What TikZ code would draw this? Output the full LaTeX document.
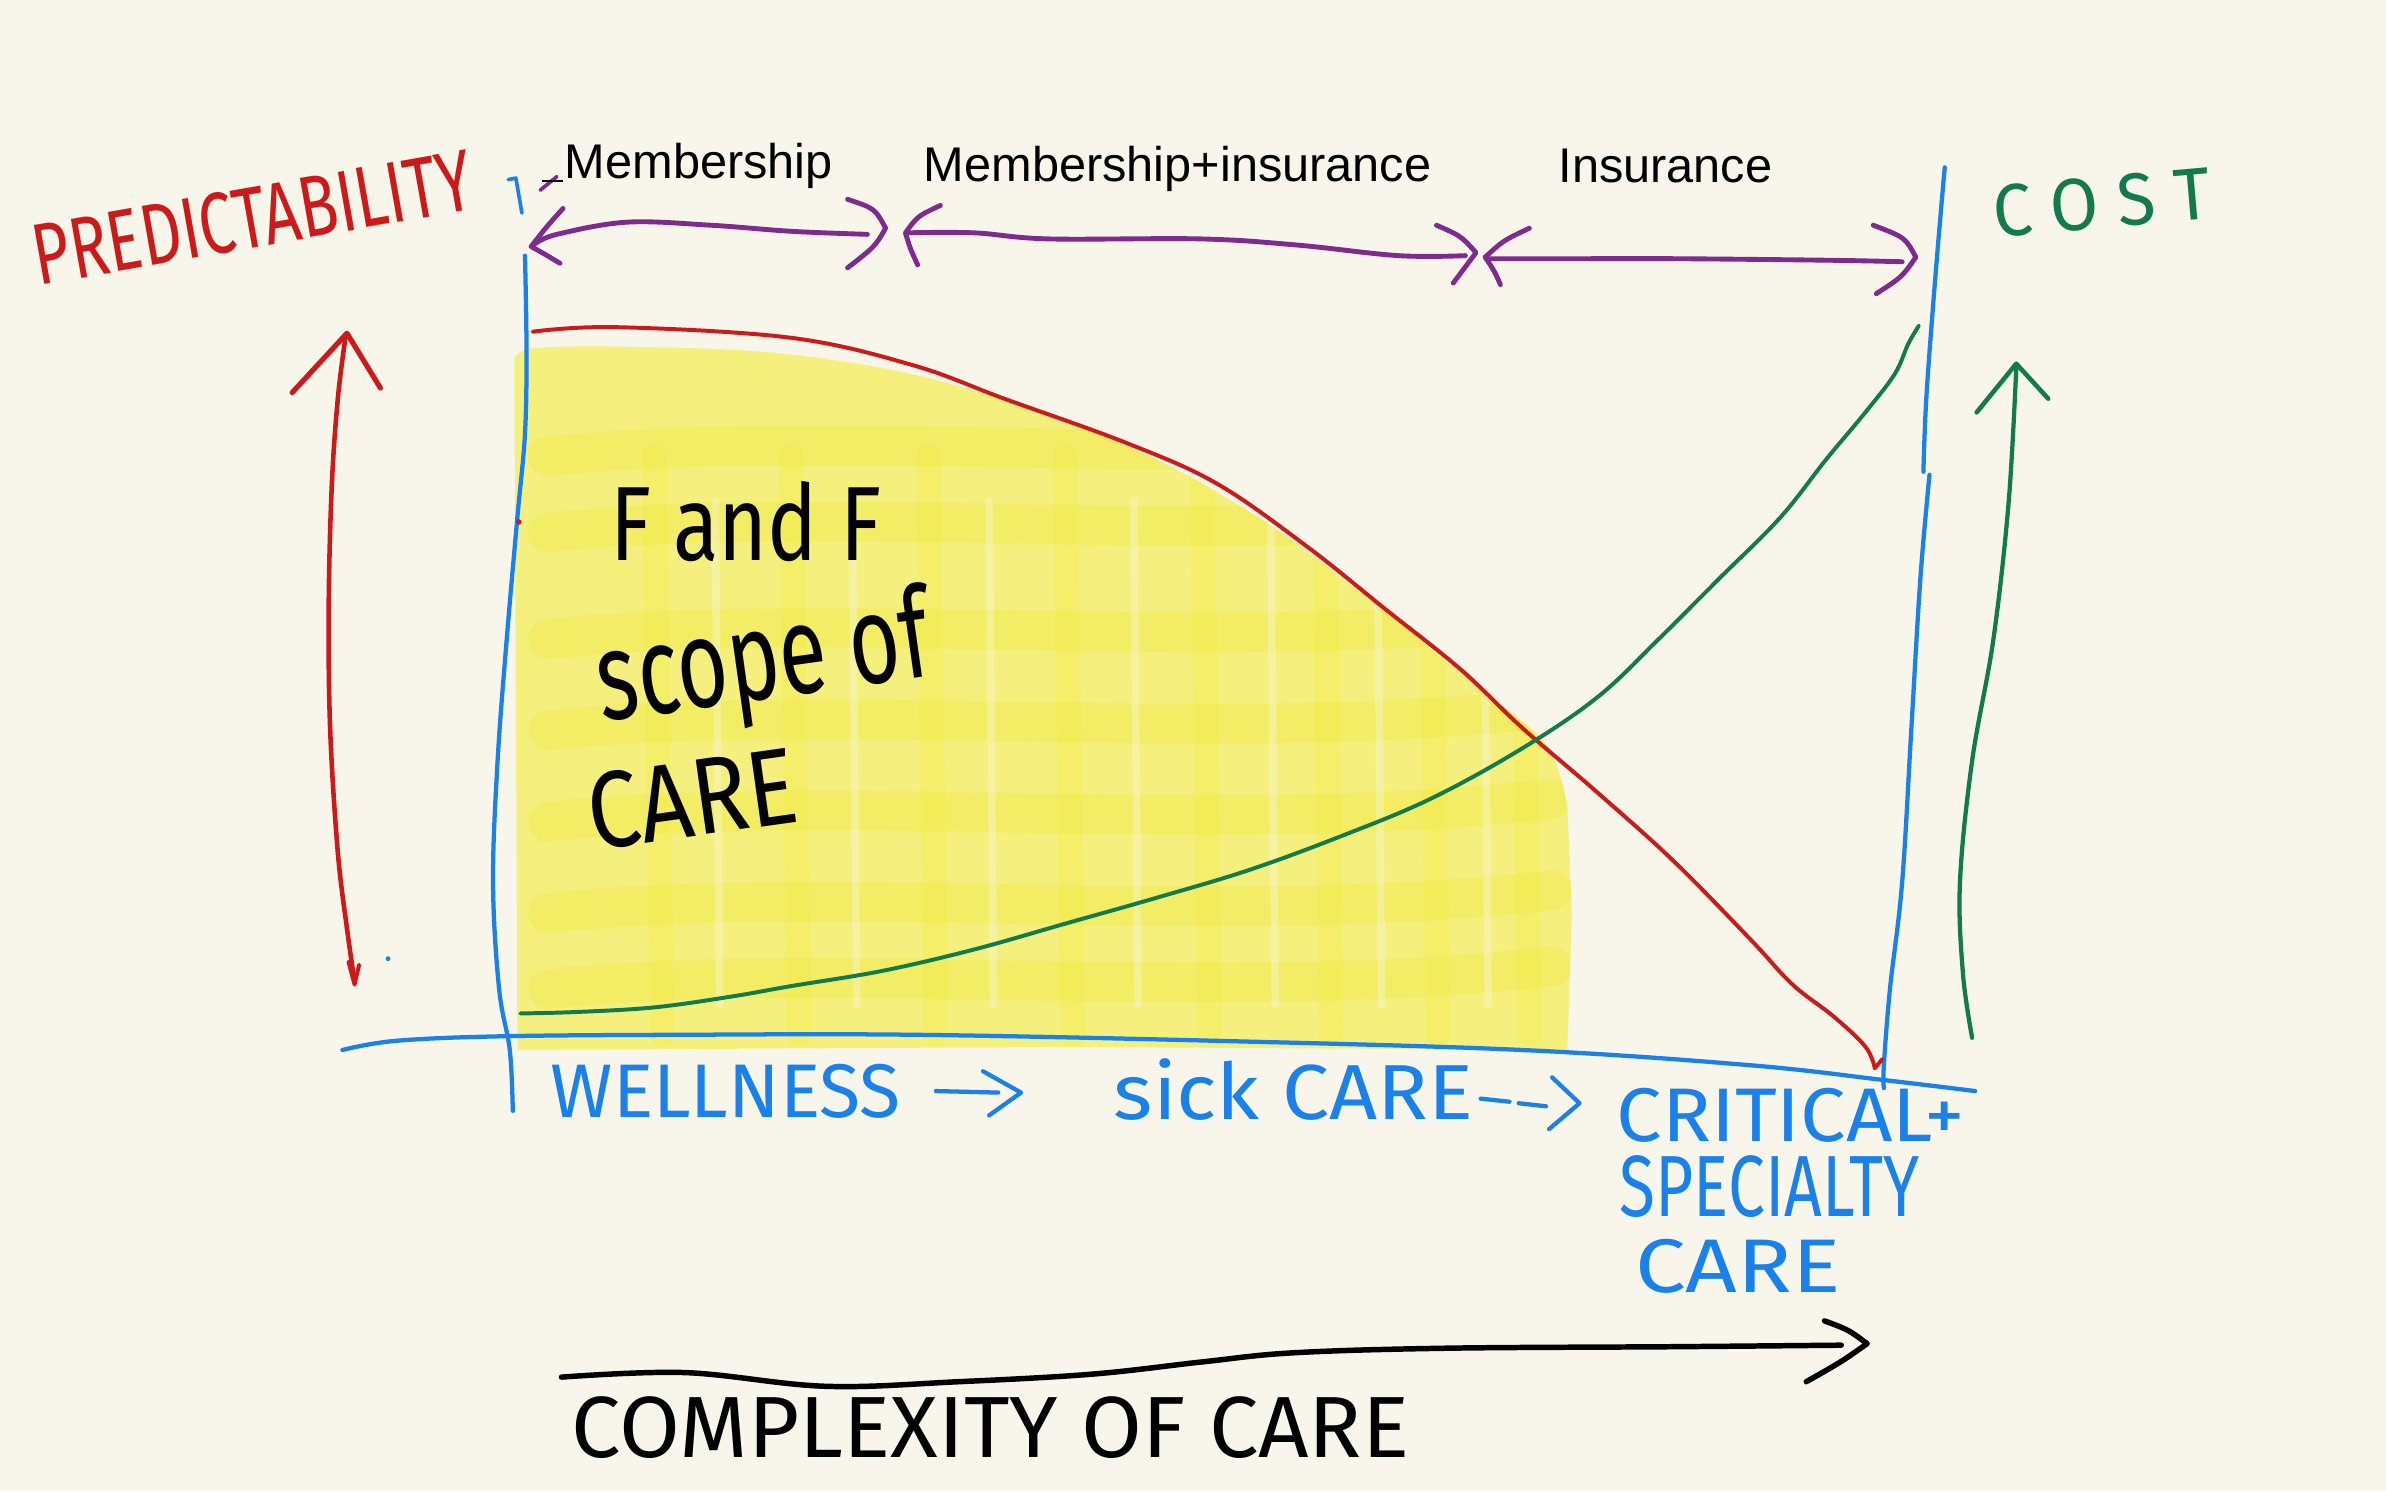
\documentclass[tikz,border=0pt]{standalone}
\usepackage{fontspec}
\setmainfont{Liberation Sans}
\newfontfamily\hand{Fira Sans}
\definecolor{bg}{HTML}{F8F6EA}
\definecolor{penred}{HTML}{CC1A1A}
\definecolor{penblue}{HTML}{1A80EA}
\definecolor{pengreen}{HTML}{137A4E}
\definecolor{penpurple}{HTML}{7E2A8E}
\definecolor{hiyel}{HTML}{F5F07E}
\definecolor{hiyel2}{HTML}{F2EA3A}
\tikzset{
  lbl/.style={font=\fontsize{32}{36}\selectfont, inner sep=0, anchor=base west, text=black},
  hw/.style={inner sep=0, font=\hand},
  penline/.style={line cap=round, line join=round},
  redpen/.style={penline, draw=penred, line width=2.6pt},
  bluepen/.style={penline, draw=penblue, line width=2.8pt},
  greenpen/.style={penline, draw=pengreen, line width=2.6pt},
  purplepen/.style={penline, draw=penpurple, line width=3.2pt},
  blackpen/.style={penline, draw=black, line width=3.6pt},
}
\begin{document}
\begin{tikzpicture}[x=1pt,y=-1pt]
\useasboundingbox (0,0) rectangle (1568,980);
\fill[bg] (0,0) rectangle (1568,980);

% yellow highlighted scope
\path[save path=\yelpath] plot[smooth, tension=0.6] coordinates {(338,238) (350,229) (420,228) (510,232) (600,246) (680,270) (760,302) (830,342) (890,386) (940,426) (985,462) (1018,492) (1030,530)} -- (1033,600) -- (1030,690) -- (700,688) -- (340,690) -- cycle;
\fill[hiyel, use path=\yelpath];
\begin{scope}
  \clip[use path=\yelpath];
  \foreach \yy in {300,350,420,480,540,600,650} {
    \draw[hiyel2, opacity=0.35, line width=26pt, line cap=round] (360,\yy) .. controls (550,\yy-20) and (800,\yy+10) .. (1020,\yy-15);
  }
  \foreach \xx in {430,520,610,700,790,870,940,1000} {
    \draw[hiyel2, opacity=0.3, line width=16pt, line cap=round] (\xx,300) -- (\xx+5,680);
  }
  \foreach \xx in {470,560,650,745,835,905,975} {
    \draw[bg, opacity=0.35, line width=5pt, line cap=round] (\xx,330) -- (\xx+3,660);
  }
\end{scope}

% frame lines
\draw[bluepen] plot[smooth, tension=0.6] coordinates {(345,168) (346,230) (345,285) (340,340) (333,420) (327,500) (324,580) (328,650) (335,690) (337,730)};
\draw[bluepen] plot[smooth, tension=0.6] coordinates {(225,690) (260,684) (330,681) (450,680) (600,680) (800,684) (1000,690) (1150,700) (1240,710) (1298,717)};
\draw[bluepen] plot[smooth, tension=0.6] coordinates {(1278,110) (1272,180) (1266,260) (1264,310)};
\draw[bluepen] plot[smooth, tension=0.6] coordinates {(1268,312) (1262,380) (1256,480) (1250,580) (1242,650) (1238,700) (1238,715)};
\draw[bluepen, line width=2.4pt] (334,118) -- (339,117) -- (343,140);
\fill[penblue] (255,630) circle (1.6);

% red predictability curve
\draw[redpen] plot[smooth, tension=0.6] coordinates {(350,218) (405,215) (520,222) (600,240) (660,262) (740,291) (800,318) (860,360) (910,400) (960,440) (1000,478) (1050,521) (1100,566) (1150,617) (1178,647) (1205,668) (1226,688) (1232,702)};
\draw[redpen] (1232,702) -- (1237,696);
\fill[penred] (341,343) circle (1.8);

% green cost curve
\draw[greenpen] plot[smooth, tension=0.6] coordinates {(342,666) (380,665) (430,662) (480,655) (520,648) (580,638) (640,624) (700,607) (760,590) (820,572) (880,550) (940,525) (1000,492) (1050,458) (1090,420) (1130,380) (1170,340) (1200,302) (1225,272) (1245,246) (1254,226) (1261,214)};

% red vertical arrow
\draw[redpen, line width=3pt] plot[smooth, tension=0.6] coordinates {(227,222) (222,262) (218,320) (216,400) (217,480) (222,560) (228,610) (233,645)};
\draw[redpen, line width=3.4pt] (192,258) -- (228,219) -- (250,255);
\draw[redpen, line width=2.6pt] (229,632) -- (233,647) -- (236,634);

% green vertical arrow
\draw[greenpen, line width=2.8pt] plot[smooth, tension=0.6] coordinates {(1296,682) (1290,640) (1288,580) (1296,500) (1310,420) (1320,330) (1325,242)};
\draw[greenpen, line width=3pt] (1299,271) -- (1325,239) -- (1346,262);

% purple range arrows
\draw[purplepen] plot[smooth, tension=0.6] coordinates {(352,160) (366,154) (412,146) (467,148) (520,152) (570,154)};
\draw[purplepen] (370,137) .. controls (360,148) .. (349,162) .. controls (358,167) .. (368,173);
\draw[purplepen] (557,131) .. controls (575,137) .. (582,150) .. controls (575,162) .. (557,176);
\draw[purplepen] plot[smooth, tension=0.6] coordinates {(596,153) (640,153) (689,157) (789,157) (852,161) (919,168) (963,168)};
\draw[purplepen] (618,135) .. controls (603,142) .. (595,153) .. controls (598,163) .. (603,174);
\draw[purplepen] (944,148) .. controls (960,155) .. (970,166) .. controls (962,176) .. (955,186);
\draw[purplepen] plot[smooth, tension=0.6] coordinates {(978,170) (1040,170) (1100,170) (1200,171) (1250,172)};
\draw[purplepen] (1005,150) .. controls (988,158) .. (976,169) .. controls (982,178) .. (986,187);
\draw[purplepen] (1231,148) .. controls (1252,156) .. (1259,169) .. controls (1250,182) .. (1233,193);
\draw[purplepen, line width=2.4pt] (355,125) -- (366,116);
\draw[black, line width=1.6pt] (356,119) -- (370,119);

% range labels
\node[lbl] (mem) at (371,117) {Membership};
\node[lbl] (memins) at (607,119) {Membership+insurance};
\node[lbl] (ins) at (1024,120) {Insurance};

% axis titles
\node[hw, text=penred, rotate=10] (pred) at (166,143) {\resizebox{292pt}{40pt}{PREDICTABILITY}};
\node[hw, text=pengreen, rotate=5] (cost) at (1381,133) {\resizebox{143pt}{34pt}{C O S T}};

% scope text
\node[hw, text=black] (ff) at (490,343) {\resizebox{178pt}{52pt}{F and F}};
\node[hw, text=black, rotate=8] (scope) at (502,437) {\resizebox{220pt}{62pt}{scope of}};
\node[hw, text=black, rotate=8] (care1) at (455,525) {\resizebox{138pt}{50pt}{CARE}};

% bottom categories
\node[hw, text=penblue] (well) at (477,717) {\resizebox{230pt}{35pt}{WELLNESS}};
\draw[bluepen] (615,717) -- (656,718);
\draw[bluepen] (646,704) -- (671,718) -- (650,733);
\node[hw, text=penblue] (sick) at (850,716) {\resizebox{236pt}{40pt}{sick CARE}};
\draw[bluepen] (973,722) -- (992,724);
\draw[bluepen] (998,725) -- (1016,727);
\draw[bluepen] (1020,708) -- (1038,725) -- (1018,742);
\node[hw, text=penblue] (crit) at (1177,733) {\resizebox{229pt}{35pt}{CRITICAL+}};
\node[hw, text=penblue] (spec) at (1163,780) {\resizebox{197pt}{40pt}{SPECIALTY}};
\node[hw, text=penblue] (care2) at (1142,832) {\resizebox{135pt}{35pt}{CARE}};

% complexity arrow
\draw[blackpen] plot[smooth, tension=0.6] coordinates {(369,905) (450,902) (542,911) (630,908) (718,903) (790,895) (850,889) (950,886) (1100,885) (1210,884)};
\draw[blackpen] (1199,868) .. controls (1215,874) .. (1227,883) .. controls (1210,895) .. (1187,908);
\node[hw, text=black] (cx) at (651,938) {\resizebox{550pt}{40pt}{COMPLEXITY OF CARE}};
\end{tikzpicture}
\end{document}
